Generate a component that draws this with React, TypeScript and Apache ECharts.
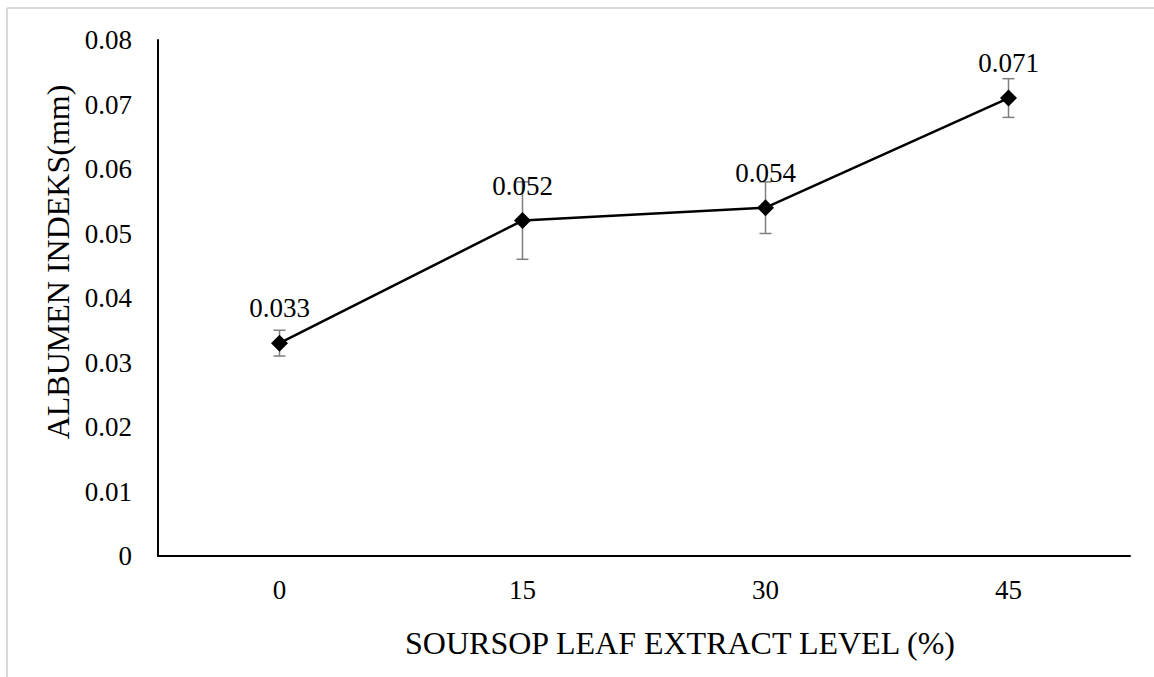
import React, { useEffect, useRef } from "react";
import * as echarts from "echarts";

const categories = ["0", "15", "30", "45"];
const values = [0.033, 0.052, 0.054, 0.071];
const errors = [0.002, 0.006, 0.004, 0.003];
const yTicks = { min: 0, max: 0.08, interval: 0.01 };

const FONT = "'Liberation Serif', 'Times New Roman', serif";

export default function App() {
  const ref = useRef<HTMLDivElement>(null);
  useEffect(() => {
    if (!ref.current) return;
    const chart = echarts.init(ref.current, null, { renderer: "svg" });
    const errData = values.map((v, i) => [i, v - errors[i], v + errors[i]]);
    chart.setOption({
      animation: false,
      backgroundColor: "#ffffff",
      grid: { left: 158, top: 40, right: 24, bottom: 121 },
      xAxis: {
        type: "category",
        data: categories,
        boundaryGap: true,
        axisLine: { lineStyle: { color: "#000", width: 2 } },
        axisTick: { show: false },
        axisLabel: { color: "#000", fontFamily: FONT, fontSize: 27, margin: 20 },
        splitLine: { show: false },
      },
      yAxis: {
        type: "value",
        min: yTicks.min,
        max: yTicks.max,
        interval: yTicks.interval,
        axisLine: { show: true, lineStyle: { color: "#000", width: 2 } },
        axisTick: { show: false },
        splitLine: { show: false },
        axisLabel: {
          color: "#000",
          fontFamily: FONT,
          fontSize: 27,
          margin: 26,
          formatter: (v: number) => (v === 0 ? "0" : v.toFixed(2)),
        },
      },
      graphic: [
        {
          type: "line",
          shape: { x1: 7, y1: 8, x2: 1154, y2: 8 },
          style: { stroke: "#d9d9d9", lineWidth: 2 },
        },
        {
          type: "line",
          shape: { x1: 7, y1: 8, x2: 7, y2: 677 },
          style: { stroke: "#d9d9d9", lineWidth: 2 },
        },
        {
          type: "text",
          x: 58,
          y: 262,
          rotation: Math.PI / 2,
          style: {
            text: "ALBUMEN INDEKS(mm)",
            fontFamily: FONT,
            fontSize: 32,
            fill: "#000",
            align: "center",
            verticalAlign: "middle",
          },
        },
        {
          type: "text",
          x: 680,
          y: 643,
          style: {
            text: "SOURSOP LEAF EXTRACT LEVEL (%)",
            fontFamily: FONT,
            fontSize: 32,
            fill: "#000",
            align: "center",
            verticalAlign: "middle",
          },
        },
      ],
      series: [
        {
          type: "custom",
          z: 1,
          data: errData,
          renderItem: (params: any, api: any) => {
            const x = api.coord([api.value(0), 0])[0];
            const lo = api.coord([api.value(0), api.value(1)])[1];
            const hi = api.coord([api.value(0), api.value(2)])[1];
            const w = 6;
            const style = { stroke: "#7f7f7f", lineWidth: 1.5 };
            return {
              type: "group",
              children: [
                { type: "line", shape: { x1: x, y1: lo, x2: x, y2: hi }, style },
                { type: "line", shape: { x1: x - w, y1: lo, x2: x + w, y2: lo }, style },
                { type: "line", shape: { x1: x - w, y1: hi, x2: x + w, y2: hi }, style },
              ],
            };
          },
        },
        {
          type: "line",
          z: 3,
          data: values,
          symbol: "diamond",
          symbolSize: 17,
          itemStyle: { color: "#000" },
          lineStyle: { color: "#000", width: 2.5 },
          label: {
            show: true,
            position: "top",
            distance: 13,
            color: "#000",
            fontFamily: FONT,
            fontSize: 27,
            formatter: (p: any) => p.value.toFixed(3),
          },
        },
      ],
    });
    return () => chart.dispose();
  }, []);
  return (
    <div
      ref={ref}
      style={{ position: "fixed", left: 0, top: 0, width: 1154, height: 677 }}
    />
  );
}
